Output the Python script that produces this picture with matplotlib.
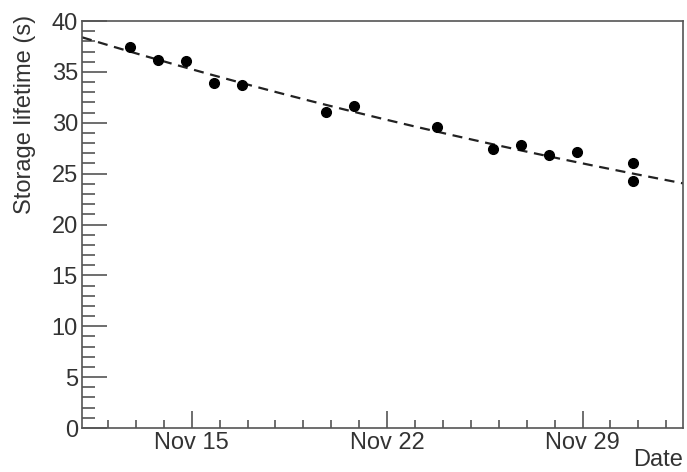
import numpy as np
import matplotlib
matplotlib.use('Agg')
import matplotlib.pyplot as plt
from matplotlib.ticker import MultipleLocator, FixedLocator

# Measured storage lifetime vs. date (day of November, fractional)
days = [12.8, 13.8, 14.8, 15.8, 16.8, 19.8, 20.8, 23.8, 25.8, 26.8, 27.8, 28.8, 30.8, 30.8]
lifetime = [37.4, 36.2, 36.1, 33.9, 33.7, 31.1, 31.6, 29.6, 27.4, 27.8, 26.8, 27.1, 26.0, 24.3]

# Exponential fit parameters: y = fit_amp * exp(-(t - fit_t0) / fit_tau)
fit_amp = 38.4
fit_t0 = 11.07
fit_tau = 46.0

major_days = [15, 22, 29]
major_labels = ['Nov 15', 'Nov 22', 'Nov 29']

xmin, xmax = 11.07, 32.6

plt.rcParams['font.family'] = ['Liberation Sans', 'DejaVu Sans']
TXT = '#333333'
AXC = '#555555'
FS = 17

fig = plt.figure(figsize=(6.87, 4.72), dpi=100)
ax = fig.add_axes([0.1194, 0.0932, 0.8748, 0.8623])

tt = np.linspace(xmin, xmax, 200)
ax.plot(tt, fit_amp * np.exp(-(tt - fit_t0) / fit_tau), ls=(0, (4.5, 3)),
        color='#222222', lw=1.6)
ax.plot(days, lifetime, 'o', color='black', ms=7, zorder=3)

ax.set_xlim(xmin, xmax)
ax.set_ylim(0, 40)

ax.xaxis.set_major_locator(FixedLocator(major_days))
ax.set_xticklabels(major_labels)
ax.xaxis.set_minor_locator(MultipleLocator(1))
ax.yaxis.set_major_locator(MultipleLocator(5))
ax.yaxis.set_minor_locator(MultipleLocator(1))

ax.tick_params(axis='both', which='both', direction='in', colors=AXC,
               labelcolor=TXT, labelsize=FS, top=False, right=False)
ax.tick_params(axis='y', which='major', length=18, width=1.2, pad=3)
ax.tick_params(axis='y', which='minor', length=9, width=1.2)
ax.tick_params(axis='x', which='major', length=12, width=1.2, pad=3)
ax.tick_params(axis='x', which='minor', length=6, width=1.2)

for sp in ax.spines.values():
    sp.set_color(AXC)
    sp.set_linewidth(1.2)

fig.text(25 / 687, 1 - 15 / 472, 'Storage lifetime (s)', rotation=90,
         ha='center', va='top', fontsize=FS, color=TXT)
fig.text(683 / 687, 1 - 466 / 472, 'Date', ha='right', va='baseline',
         fontsize=FS, color=TXT)

fig.savefig('out.png', dpi=100)
